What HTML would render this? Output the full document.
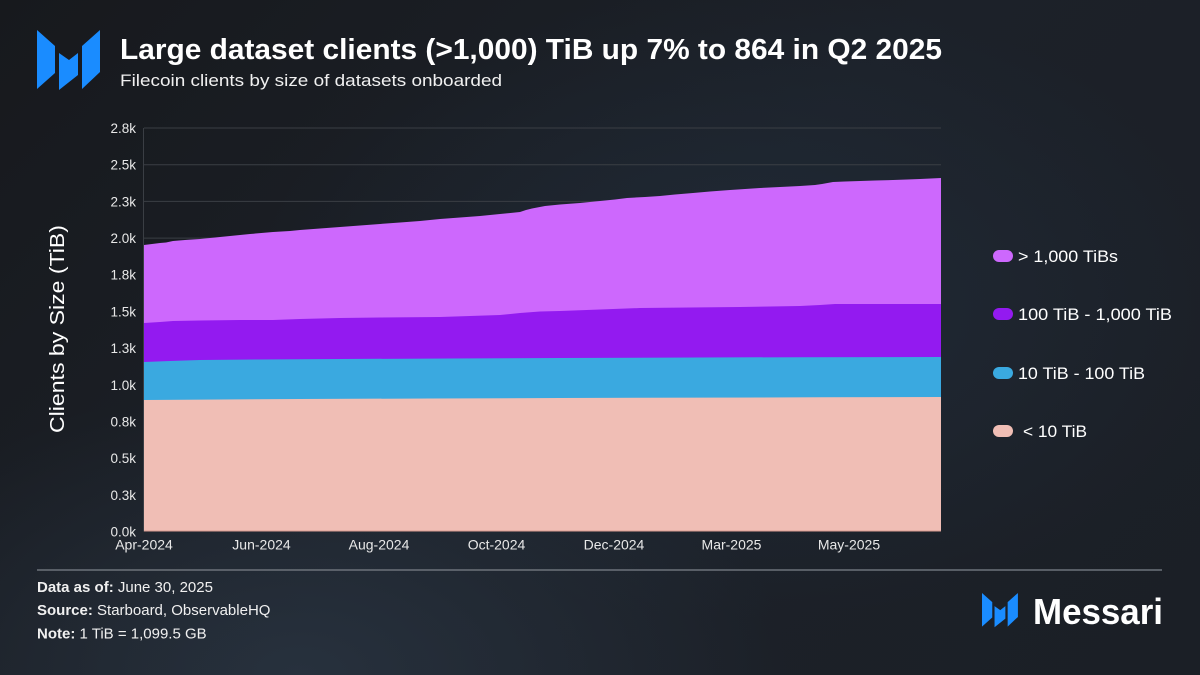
<!DOCTYPE html>
<html>
<head>
<meta charset="utf-8">
<style>
  html, body { margin:0; padding:0; }
  body {
    width:1200px; height:675px; overflow:hidden;
    background:#1b1e23;
    background-image:
      radial-gradient(ellipse 700px 420px at 25% 100%, rgba(48,62,78,0.55), rgba(48,62,78,0) 70%),
      radial-gradient(ellipse 700px 450px at 62% 45%, rgba(36,50,66,0.55), rgba(36,50,66,0) 70%),
      linear-gradient(135deg, #17191d 0%, #1c2129 50%, #1b1f26 100%);
    font-family: "Liberation Sans", sans-serif;
  }
  svg { display:block; }
</style>
</head>
<body>
<svg width="1200" height="675" viewBox="0 0 1200 675" xmlns="http://www.w3.org/2000/svg">
  <!-- Top logo -->
  <g fill="#1a8cff">
    <polygon points="37,30 55,46 55,73 37,89"/>
    <polygon points="59,53 69,60 78,53 78,75 59,90"/>
    <polygon points="82,46 100,30 100,72 82,89"/>
  </g>
  <!-- Title -->
  <text x="120" y="59" font-size="29" font-weight="bold" fill="#ffffff" textLength="822" lengthAdjust="spacingAndGlyphs">Large dataset clients (&gt;1,000) TiB up 7% to 864 in Q2 2025</text>
  <text x="120" y="86" font-size="17" fill="#f0f0f0" textLength="382" lengthAdjust="spacingAndGlyphs">Filecoin clients by size of datasets onboarded</text>

  <!-- Gridlines -->
  <g stroke="#3a3e44" stroke-width="1">
    <line x1="144" y1="128" x2="941" y2="128"/>
    <line x1="144" y1="164.7" x2="941" y2="164.7"/>
    <line x1="144" y1="201.4" x2="941" y2="201.4"/>
    <line x1="144" y1="238.1" x2="941" y2="238.1"/>
    <line x1="144" y1="274.7" x2="941" y2="274.7"/>
    <line x1="144" y1="311.4" x2="941" y2="311.4"/>
    <line x1="144" y1="348.1" x2="941" y2="348.1"/>
    <line x1="144" y1="384.8" x2="941" y2="384.8"/>
    <line x1="144" y1="421.5" x2="941" y2="421.5"/>
    <line x1="144" y1="458.1" x2="941" y2="458.1"/>
    <line x1="144" y1="494.8" x2="941" y2="494.8"/>
    <line x1="143.5" y1="128" x2="143.5" y2="531.5"/>
  </g>

  <!-- Areas -->
  <!-- > 1,000 TiBs (top layer) -->
  <polygon fill="#cd68fd" points="
    144,245 152,244 160,243 166,242.5 173,241 185,240 200,239 215,237.5 230,236 250,234 273,232 290,231 300,230 320,228.5 340,227 360,225.5 380,224 400,222.5 420,221 440,219 460,217.5 480,216 500,214 520,212 526,210 532,208.5 545,206 560,204.5 580,203 600,201 615,199.5 627,198 645,197 660,196 675,194.5 693,193 710,191.5 730,190 745,189 760,188 780,187 800,186 815,185 822,184 833,182 845,181.5 860,181 875,180.5 893,180 907,179.5 920,179 941,178
    941,531.5 144,531.5"/>
  <!-- 100 TiB - 1,000 TiB -->
  <polygon fill="#931af0" points="
    144,323 160,322 173,321 200,320.5 240,320 273,320 300,319 340,318 380,317.5 440,317 470,316 500,315 520,313 540,311.5 560,311 600,309.5 640,308 690,307.5 740,307 770,306.5 800,306 820,305 835,304 860,304 900,304 941,304
    941,531.5 144,531.5"/>
  <!-- 10 TiB - 100 TiB -->
  <polygon fill="#3aa9e0" points="
    144,362 170,361 200,360 260,359.5 340,359 450,358.5 560,358 700,357.5 800,357.2 941,357
    941,531.5 144,531.5"/>
  <!-- < 10 TiB -->
  <polygon fill="#f0beb5" points="
    144,400 220,399.5 300,399 430,398.5 560,398 700,397.6 820,397.3 941,397
    941,531.5 144,531.5"/>
  <line x1="144" y1="531" x2="941" y2="531" stroke="#d79a90" stroke-width="1"/>

  <!-- Y tick labels -->
  <g font-size="13.5" fill="#e8e8e8" text-anchor="end">
    <text x="136" y="133">2.8k</text>
    <text x="136" y="169.7">2.5k</text>
    <text x="136" y="206.4">2.3k</text>
    <text x="136" y="243.1">2.0k</text>
    <text x="136" y="279.7">1.8k</text>
    <text x="136" y="316.4">1.5k</text>
    <text x="136" y="353.1">1.3k</text>
    <text x="136" y="389.8">1.0k</text>
    <text x="136" y="426.5">0.8k</text>
    <text x="136" y="463.1">0.5k</text>
    <text x="136" y="499.8">0.3k</text>
    <text x="136" y="536.5">0.0k</text>
  </g>

  <!-- X tick labels -->
  <g font-size="14" fill="#e8e8e8" text-anchor="middle">
    <text x="144" y="549.5">Apr-2024</text>
    <text x="261.5" y="549.5">Jun-2024</text>
    <text x="379" y="549.5">Aug-2024</text>
    <text x="496.5" y="549.5">Oct-2024</text>
    <text x="614" y="549.5">Dec-2024</text>
    <text x="731.5" y="549.5">Mar-2025</text>
    <text x="849" y="549.5">May-2025</text>
  </g>

  <!-- Y axis title -->
  <text transform="translate(64,329) rotate(-90)" font-size="20" fill="#ffffff" text-anchor="middle" textLength="208" lengthAdjust="spacingAndGlyphs">Clients by Size (TiB)</text>

  <!-- Legend -->
  <g>
    <rect x="993" y="250" width="20" height="12" rx="6" fill="#cd68fd"/>
    <text x="1018" y="262" font-size="17" fill="#ffffff" textLength="100" lengthAdjust="spacingAndGlyphs">&gt; 1,000 TiBs</text>
    <rect x="993" y="308" width="20" height="12" rx="6" fill="#931af0"/>
    <text x="1018" y="320" font-size="17" fill="#ffffff" textLength="154" lengthAdjust="spacingAndGlyphs">100 TiB - 1,000 TiB</text>
    <rect x="993" y="367" width="20" height="12" rx="6" fill="#3aa9e0"/>
    <text x="1018" y="379" font-size="17" fill="#ffffff" textLength="127" lengthAdjust="spacingAndGlyphs">10 TiB - 100 TiB</text>
    <rect x="993" y="425" width="20" height="12" rx="6" fill="#f0beb5"/>
    <text x="1023" y="437" font-size="17" fill="#ffffff" textLength="64" lengthAdjust="spacingAndGlyphs">&lt; 10 TiB</text>
  </g>

  <!-- Separator -->
  <line x1="37" y1="570" x2="1162" y2="570" stroke="#6d737b" stroke-width="1.5"/>

  <!-- Footer -->
  <g font-size="15" fill="#f0f0f0">
    <text x="37" y="592"><tspan font-weight="bold">Data as of:</tspan> June 30, 2025</text>
    <text x="37" y="615"><tspan font-weight="bold">Source:</tspan> Starboard, ObservableHQ</text>
    <text x="37" y="638.5"><tspan font-weight="bold">Note:</tspan> 1 TiB = 1,099.5 GB</text>
  </g>

  <!-- Messari logo -->
  <g fill="#1a8cff" transform="translate(982,593) scale(0.57)">
    <polygon points="0,0 18,16 18,43 0,59"/>
    <polygon points="22,23 32,30 41,23 41,45 22,60"/>
    <polygon points="45,16 63,0 63,42 45,59"/>
  </g>
  <text x="1033" y="624" font-size="36" font-weight="bold" fill="#ffffff" textLength="130" lengthAdjust="spacingAndGlyphs">Messari</text>
</svg>
</body>
</html>
